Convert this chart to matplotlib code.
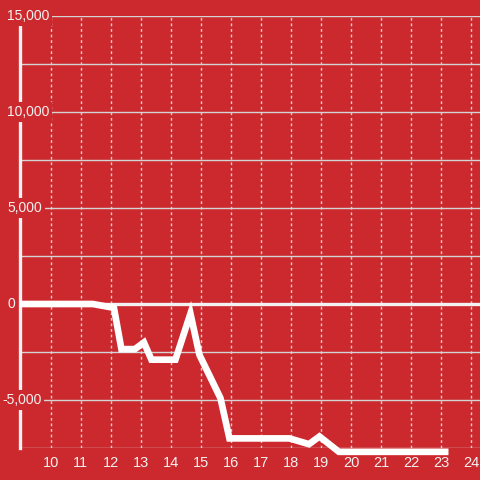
import matplotlib.pyplot as plt
import matplotlib.transforms as mtransforms

bg = "#cc292e"
grid_c = "#d4d4d4"
txt_c = "#f2f2f2"

# line data (hour, value)
hours = [8.97, 11.4, 12.1, 12.35, 12.8, 13.1, 13.35, 14.15, 14.65, 14.95,
         15.65, 15.95, 17.95, 18.6, 18.95, 19.6, 23.25]
values = [0, 0, -200, -2350, -2350, -2000, -2900, -2900, -500, -2650,
          -4900, -7000, -7000, -7300, -6900, -7700, -7700]

x_ticks = list(range(10, 25))
y_labels = [15000, 10000, 5000, 0, -5000]
y_grid = [-7500, -5000, -2500, 2500, 5000, 7500, 10000, 12500, 15000]

fig = plt.figure(figsize=(4.8, 4.8), dpi=100)
fig.patch.set_facecolor(bg)
ax = fig.add_axes([20 / 480, 32 / 480, 460 / 480, 432 / 480])
ax.set_facecolor(bg)
ax.set_xlim(8.97, 24.3)
ax.set_ylim(-7500, 15000)

for s in ["top", "right", "bottom"]:
    ax.spines[s].set_visible(False)
ax.spines["left"].set_color("#f2f2f2")
ax.spines["left"].set_linewidth(2.4)
ax.spines["left"].set_bounds(-7500, 14600)
ax.spines["left"].set_zorder(3)

for v in y_grid:
    ax.axhline(v, color=grid_c, lw=1.0, zorder=1)
for h in x_ticks:
    ax.axvline(h, color=grid_c, lw=1.0, ls=(0, (2, 2)), zorder=1)
ax.axhline(0, color="#f2f2f2", lw=2.4, zorder=2)

ax.plot(hours, values, color="white", lw=4.8, solid_joinstyle="miter",
        solid_capstyle="butt", clip_on=False, zorder=4)

ax.set_xticks(x_ticks)
ax.set_xticklabels([str(t) for t in x_ticks])
ax.tick_params(axis="x", length=0, pad=6, labelsize=10.5, labelcolor=txt_c,
               labelfontfamily="Liberation Sans")
ax.set_yticks([])

trans = mtransforms.blended_transform_factory(ax.transAxes, ax.transData)
for v in y_labels:
    ax.text(-13 / 460 if v >= 0 else -18 / 460, v, f"{v:,}", transform=trans,
            ha="left", va="center", fontsize=10, color=txt_c,
            family="Liberation Sans",
            bbox=dict(boxstyle="square,pad=0.2", fc=bg, ec="none"), zorder=5)

fig.savefig("out.png", dpi=100, facecolor=bg)
